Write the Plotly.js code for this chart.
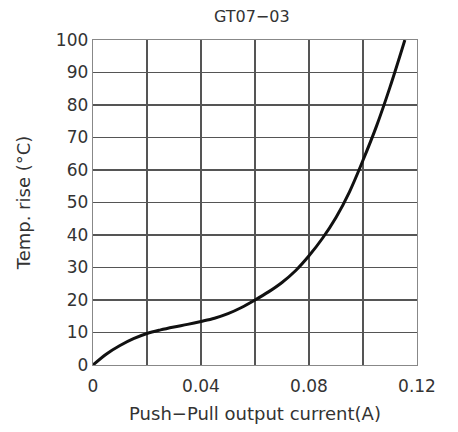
<!DOCTYPE html>
<html>
<head>
<meta charset="utf-8">
<script src="https://cdn.plot.ly/plotly-3.0.1.min.js"></script>
<style>html,body{margin:0;padding:0;background:#fff;}#chart{width:458px;height:432px;}</style>
</head>
<body>
<div id="chart"></div>
<script>
const current = [0, 0.005, 0.01, 0.015, 0.02, 0.025, 0.03, 0.035, 0.04, 0.045, 0.05, 0.055, 0.06, 0.065, 0.07, 0.075, 0.08, 0.085, 0.09, 0.095, 0.10, 0.105, 0.11, 0.1155];
const tempRise = [0, 3.4, 6.0, 8.1, 9.7, 10.8, 11.7, 12.5, 13.4, 14.4, 15.8, 17.7, 20.0, 22.5, 25.4, 29.0, 33.6, 39.0, 45.4, 53.3, 63.0, 73.5, 85.5, 100];
const xTickVals = [0, 0.02, 0.04, 0.06, 0.08, 0.10, 0.12];
const xTickText = ['0', '', '0.04', '', '0.08', '', '0.12'];
const yTickVals = [0, 10, 20, 30, 40, 50, 60, 70, 80, 90, 100];

const font = 'DejaVu Sans, Liberation Sans, Arial, sans-serif';

Plotly.newPlot('chart', [{
  x: current, y: tempRise, type: 'scatter', mode: 'lines',
  line: {color: '#111', width: 3, shape: 'spline', smoothing: 1},
  hoverinfo: 'skip'
}], {
  width: 458, height: 432,
  margin: {l: 93, r: 41, t: 40, b: 67},
  paper_bgcolor: '#fff', plot_bgcolor: '#fff',
  showlegend: false,
  title: {text: 'GT07−03', font: {family: font, size: 16, color: '#333'}, x: 0.49, xref: 'paper', y: 0.962, yref: 'container', yanchor: 'middle'},
  xaxis: {
    range: [0, 0.12], tickvals: xTickVals, ticktext: xTickText,
    showgrid: true, gridcolor: '#555', gridwidth: 1.3, zeroline: false,
    showline: true, mirror: true, linecolor: '#888', linewidth: 1.3,
    ticks: '', ticklabelstandoff: 5, tickfont: {family: font, size: 17, color: '#333'},
    title: {text: 'Push−Pull output current(A)', font: {family: font, size: 18, color: '#333'}, standoff: 12}
  },
  yaxis: {
    range: [0, 100], tickvals: yTickVals,
    showgrid: true, gridcolor: '#555', gridwidth: 1.3, zeroline: false,
    showline: true, mirror: true, linecolor: '#888', linewidth: 1.3,
    ticks: '', tickfont: {family: font, size: 17, color: '#333'},
    title: {text: 'Temp. rise (°C)', font: {family: font, size: 18, color: '#333'}, standoff: 20}
  }
}, {staticPlot: true, displayModeBar: false});
</script>
</body>
</html>
